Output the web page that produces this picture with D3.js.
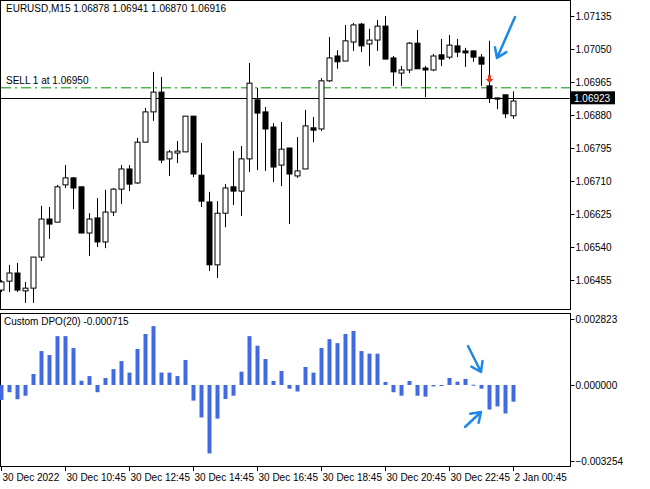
<!DOCTYPE html>
<html>
<head>
<meta charset="utf-8">
<script src="https://cdn.jsdelivr.net/npm/d3@7"></script>
<style>
body { margin: 0; background: #fff; }
text { font-family: "Liberation Sans", sans-serif; font-size: 10px; }
</style>
</head>
<body>
<svg id="chart" width="650" height="489"></svg>
<script>
// candle data (M15 bars)
const opens  = [1.06429,1.06452,1.06473,1.06427,1.06434,1.06514,1.06612,1.06604,1.06700,1.06718,1.06695,1.06576,1.06615,1.06553,1.06630,1.06689,1.06741,1.06705,1.06810,1.06888,1.06939,1.06767,1.06782,1.06785,1.06877,1.06725,1.06656,1.06494,1.06627,1.06695,1.06684,1.06767,1.06919,1.06888,1.06849,1.06751,1.06795,1.06723,1.06741,1.06847,1.06844,1.06968,1.07032,1.07019,1.07068,1.07114,1.07063,1.07073,1.07109,1.07027,1.06988,1.06996,1.07065,1.07001,1.06996,1.07035,1.07029,1.07058,1.07045,1.07045,1.07029,1.06955,1.06924,1.06932,1.06878];
const highs  = [1.06455,1.06494,1.06499,1.06450,1.06514,1.06646,1.06643,1.06700,1.06751,1.06720,1.06695,1.06627,1.06666,1.06687,1.06692,1.06751,1.06751,1.06821,1.06898,1.06991,1.06978,1.06790,1.06813,1.06877,1.06877,1.06808,1.06682,1.06658,1.06702,1.06787,1.06800,1.07014,1.06950,1.06901,1.06859,1.06862,1.06795,1.06823,1.06893,1.06875,1.06975,1.07081,1.07047,1.07112,1.07117,1.07117,1.07102,1.07125,1.07135,1.07032,1.07006,1.07068,1.07099,1.07006,1.07037,1.07076,1.07086,1.07076,1.07053,1.07047,1.07037,1.07071,1.06924,1.06932,1.06941];
const lows   = [1.06424,1.06424,1.06424,1.06396,1.06396,1.06504,1.06561,1.06604,1.06692,1.06638,1.06576,1.06517,1.06540,1.06537,1.06620,1.06651,1.06684,1.06702,1.06810,1.06865,1.06756,1.06723,1.06756,1.06785,1.06720,1.06643,1.06478,1.06460,1.06591,1.06648,1.06620,1.06733,1.06738,1.06736,1.06707,1.06697,1.06599,1.06718,1.06741,1.06810,1.06839,1.06965,1.06999,1.07019,1.07045,1.07042,1.07006,1.07045,1.07024,1.06955,1.06955,1.06988,1.06999,1.06926,1.06993,1.07006,1.07024,1.07029,1.07004,1.07017,1.06955,1.06911,1.06895,1.06872,1.06870];
const closes = [1.06450,1.06473,1.06429,1.06434,1.06514,1.06612,1.06599,1.06695,1.06718,1.06692,1.06576,1.06612,1.06553,1.06630,1.06689,1.06741,1.06702,1.06810,1.06888,1.06939,1.06764,1.06785,1.06787,1.06877,1.06728,1.06658,1.06494,1.06627,1.06692,1.06684,1.06767,1.06962,1.06885,1.06844,1.06746,1.06792,1.06728,1.06736,1.06852,1.06841,1.06968,1.07027,1.07017,1.07071,1.07112,1.07058,1.07073,1.07109,1.07024,1.06991,1.06996,1.07065,1.06999,1.06996,1.07032,1.07024,1.07060,1.07042,1.07040,1.07029,1.07011,1.06924,1.06921,1.06883,1.06916];

// Custom DPO(20) histogram
const dpo = [-0.00064,-0.00031,-0.00061,-0.00046,0.00047,0.00145,0.00128,0.00209,0.00209,0.00158,0.00018,0.00038,-0.00031,0.00030,0.00068,0.00102,0.00053,0.00154,0.00218,0.00252,0.00053,0.00053,0.00038,0.00107,-0.00067,-0.00139,-0.00293,-0.00144,-0.00060,-0.00046,0.00057,0.00209,0.00168,0.00111,0.00017,0.00060,-0.00016,-0.00028,0.00077,0.00053,0.00158,0.00196,0.00179,0.00218,0.00231,0.00145,0.00134,0.00134,0.00013,-0.00031,-0.00046,0.00017,-0.00046,-0.00050,-0.00006,-0.00001,0.00030,0.00014,0.00026,0.00001,-0.00016,-0.00105,-0.00092,-0.00122,-0.000715];

const priceTicks = [1.07135,1.07050,1.06965,1.06880,1.06795,1.06710,1.06625,1.06540,1.06455];
const dpoTicks = [0.002823,0.000000,-0.003254];
const timeLabels = ["30 Dec 2022","30 Dec 10:45","30 Dec 12:45","30 Dec 14:45","30 Dec 16:45","30 Dec 18:45","30 Dec 20:45","30 Dec 22:45","2 Jan 00:45"];

const sellPrice = 1.06950, bidPrice = 1.06923, sellBar = 61;

const svg = d3.select("#chart");
const axisX = 570;

// scales
const x = d3.scaleLinear().domain([0, 64]).range([1, 513]);
const y = d3.scaleLinear().domain([1.06455, 1.07135]).range([280, 16]);
const yd = d3.scaleLinear().domain([-0.003254, 0.002823]).range([461, 319]);

// frames
svg.append("rect").attr("x", 0.5).attr("y", 0.5).attr("width", axisX).attr("height", 309).attr("fill", "none").attr("stroke", "#000");
svg.append("rect").attr("x", 0.5).attr("y", 313.5).attr("width", axisX).attr("height", 153).attr("fill", "none").attr("stroke", "#000");

// main price axis
const priceAxis = svg.append("g").attr("transform", `translate(${axisX + 0.5},0)`)
  .call(d3.axisRight(y).tickValues(priceTicks).tickFormat(d3.format(".5f")).tickSize(4));
priceAxis.select(".domain").remove();
priceAxis.selectAll("text").attr("x", 5).attr("fill", "#000").style("font-size", "10px").style("font-family", "Liberation Sans");

// dpo axis
const dpoAxis = svg.append("g").attr("transform", `translate(${axisX + 0.5},0)`)
  .call(d3.axisRight(yd).tickValues(dpoTicks).tickFormat(d3.format(".6f")).tickSize(4));
dpoAxis.select(".domain").remove();
dpoAxis.selectAll("text").attr("x", 5).attr("fill", "#000").style("font-size", "10px").style("font-family", "Liberation Sans");

// sell level (green dash-dot) and bid line
svg.append("line").attr("x1", 1).attr("x2", axisX).attr("y1", y(sellPrice)).attr("y2", y(sellPrice))
  .attr("stroke", "#009000").attr("stroke-dasharray", "10,4,2,4");
svg.append("text").attr("x", 6).attr("y", y(sellPrice) - 4).text("SELL 1 at 1.06950");
svg.append("line").attr("x1", 1).attr("x2", axisX).attr("y1", Math.round(y(bidPrice)) + 0.5).attr("y2", Math.round(y(bidPrice)) + 0.5)
  .attr("stroke", "#000");
svg.append("rect").attr("x", axisX + 1).attr("y", y(bidPrice) - 7).attr("width", 44).attr("height", 13).attr("fill", "#000");
svg.append("text").attr("x", axisX + 4).attr("y", y(bidPrice) + 3.5).attr("fill", "#fff").text(bidPrice.toFixed(5));

// candles
const idx = d3.range(opens.length);
const candles = svg.append("g");
candles.selectAll("line").data(idx).join("line")
  .attr("x1", i => Math.round(x(i)) + 0.5).attr("x2", i => Math.round(x(i)) + 0.5)
  .attr("y1", i => y(highs[i])).attr("y2", i => y(lows[i]))
  .attr("stroke", "#000");
candles.selectAll("rect").data(idx).join("rect")
  .attr("x", i => Math.round(x(i)) - 2)
  .attr("y", i => y(Math.max(opens[i], closes[i])))
  .attr("width", 5)
  .attr("height", i => Math.max(1, Math.abs(y(opens[i]) - y(closes[i]))))
  .attr("fill", i => closes[i] >= opens[i] ? "#fff" : "#000")
  .attr("stroke", "#000");

// red sell arrow just above the sell candle's open
const ax = Math.round(x(sellBar)) + 0.5, ay = y(opens[sellBar]) - 3;
svg.append("path")
  .attr("d", `M${ax - 4},${ay - 4} h8 l-4,4 z M${ax - 1.5},${ay - 8} h3 v4 h-3 z`)
  .attr("fill", "#e03a1e");

// header
svg.append("text").attr("x", 6).attr("y", 12).text("EURUSD,M15  1.06878 1.06941 1.06870 1.06916");

// DPO histogram
svg.append("g").selectAll("rect").data(idx).join("rect")
  .attr("x", i => Math.round(x(i)) - 1.5)
  .attr("y", i => yd(Math.max(0, dpo[i])))
  .attr("width", 4)
  .attr("height", i => Math.max(1, Math.abs(yd(dpo[i]) - yd(0))))
  .attr("fill", "#4169e1");
svg.append("text").attr("x", 4).attr("y", 325).text("Custom DPO(20) -0.000715");

// time axis
const tg = svg.append("g");
timeLabels.forEach((t, k) => {
  const tx = Math.round(x(k * 8)) + 0.5;
  tg.append("line").attr("x1", tx).attr("x2", tx).attr("y1", 467).attr("y2", 471).attr("stroke", "#000");
  tg.append("text").attr("x", tx + 1).attr("y", 481).text(t);
});

// blue hand-drawn annotation arrows
const blue = "#1f88e5";
function arrow(x1, y1, x2, y2) {
  const a = Math.atan2(y2 - y1, x2 - x1), L = 11;
  svg.append("path")
    .attr("d", `M${x1},${y1} L${x2},${y2} M${x2 - L * Math.cos(a - 0.6)},${y2 - L * Math.sin(a - 0.6)} L${x2},${y2} L${x2 - L * Math.cos(a + 0.6)},${y2 - L * Math.sin(a + 0.6)}`)
    .attr("fill", "none").attr("stroke", blue).attr("stroke-width", 2.5).attr("stroke-linecap", "round").attr("stroke-linejoin", "round");
}
arrow(515, 17, 497, 58);
arrow(468, 346, 481, 372);
arrow(465, 427, 481, 412);
</script>
</body>
</html>
